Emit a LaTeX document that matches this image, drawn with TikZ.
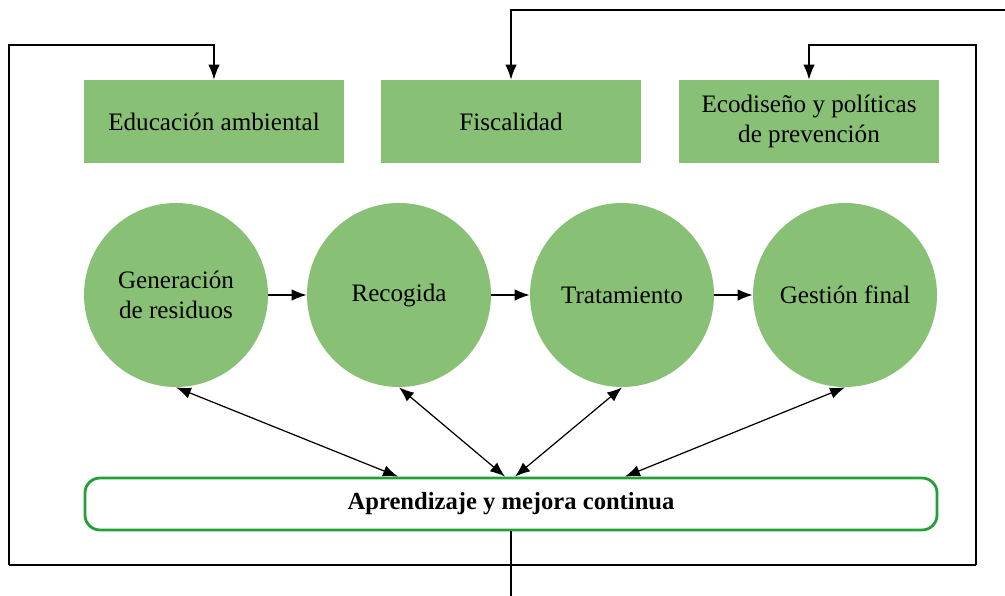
\documentclass[tikz,border=0pt]{standalone}
\usepackage{fontspec}
\setmainfont{Liberation Serif}
\usetikzlibrary{arrows.meta}
\definecolor{verdeclaro}{RGB}{136,192,118}
\definecolor{verdeborde}{RGB}{34,160,58}
\tikzset{
    caja/.style={fill=verdeclaro,minimum width=5.2cm,minimum height=1.66cm,align=center,inner sep=0pt},
    circulo/.style={circle,fill=verdeclaro,minimum size=3.68cm,align=center,inner sep=0pt},
    marco/.style={draw=verdeborde,line width=1.6pt,rounded corners=0.3cm,fill=white,minimum width=17.04cm,minimum height=1.04cm,font=\fontsize{14}{17}\selectfont\bfseries},
    linea/.style={line width=0.7pt},
    flecha/.style={linea,-{Latex[length=8.5pt,width=6.5pt]}},
    doble/.style={linea,{Latex[length=8.5pt,width=6.5pt]}-{Latex[length=8.5pt,width=6.5pt]}},
}
\begin{document}
\begin{tikzpicture}[x=0.2mm,y=-0.2mm,font=\fontsize{14.3}{17}\selectfont]
\useasboundingbox (0,0) rectangle (1005,596);
% instrumentos
\node[caja] (educacion) at (214,121.5) {Educación ambiental};
\node[caja] (fiscalidad) at (511,121.5) {Fiscalidad};
\node[caja] (ecodiseno) at (809,121.5) {Ecodiseño y políticas\\de prevención};
% etapas
\node[circulo] (generacion) at (176,295) {Generación\\de residuos};
\node[circulo] (recogida) at (399,295) {Recogida};
\node[circulo] (tratamiento) at (622,295) {Tratamiento};
\node[circulo] (gestion) at (845,295) {Gestión final};
\node[marco] (aprendizaje) at (511,504) {Aprendizaje y mejora continua};
\draw[flecha] (generacion) -- (recogida);
\draw[flecha] (recogida) -- (tratamiento);
\draw[flecha] (tratamiento) -- (gestion);
\draw[doble] (generacion.south) -- ([xshift=-2.26cm]aprendizaje.north);
\draw[doble] (recogida.south) -- ([xshift=-0.12cm]aprendizaje.north);
\draw[doble] (tratamiento.south) -- ([xshift=0.08cm]aprendizaje.north);
\draw[doble] (gestion.south) -- ([xshift=2.28cm]aprendizaje.north);
% lazo de realimentacion
\coordinate (lazo-so) at (9,565);
\coordinate (lazo-se) at (976,565);
\coordinate (lazo-no) at (9,45);
\coordinate (lazo-ne) at (976,45);
\coordinate (salida) at (511,596);
\coordinate (entrada) at (1005,10);
\draw[linea] (aprendizaje.south) -- (salida);
\draw[linea] (lazo-so) -- (lazo-se);
\draw[flecha] (lazo-so) -- (lazo-no) -| (educacion.north);
\draw[flecha] (lazo-se) -- (lazo-ne) -| (ecodiseno.north);
\draw[flecha] (entrada) -| (fiscalidad.north);
%\draw[linea] (salida) -- (entrada);
\end{tikzpicture}
\end{document}
